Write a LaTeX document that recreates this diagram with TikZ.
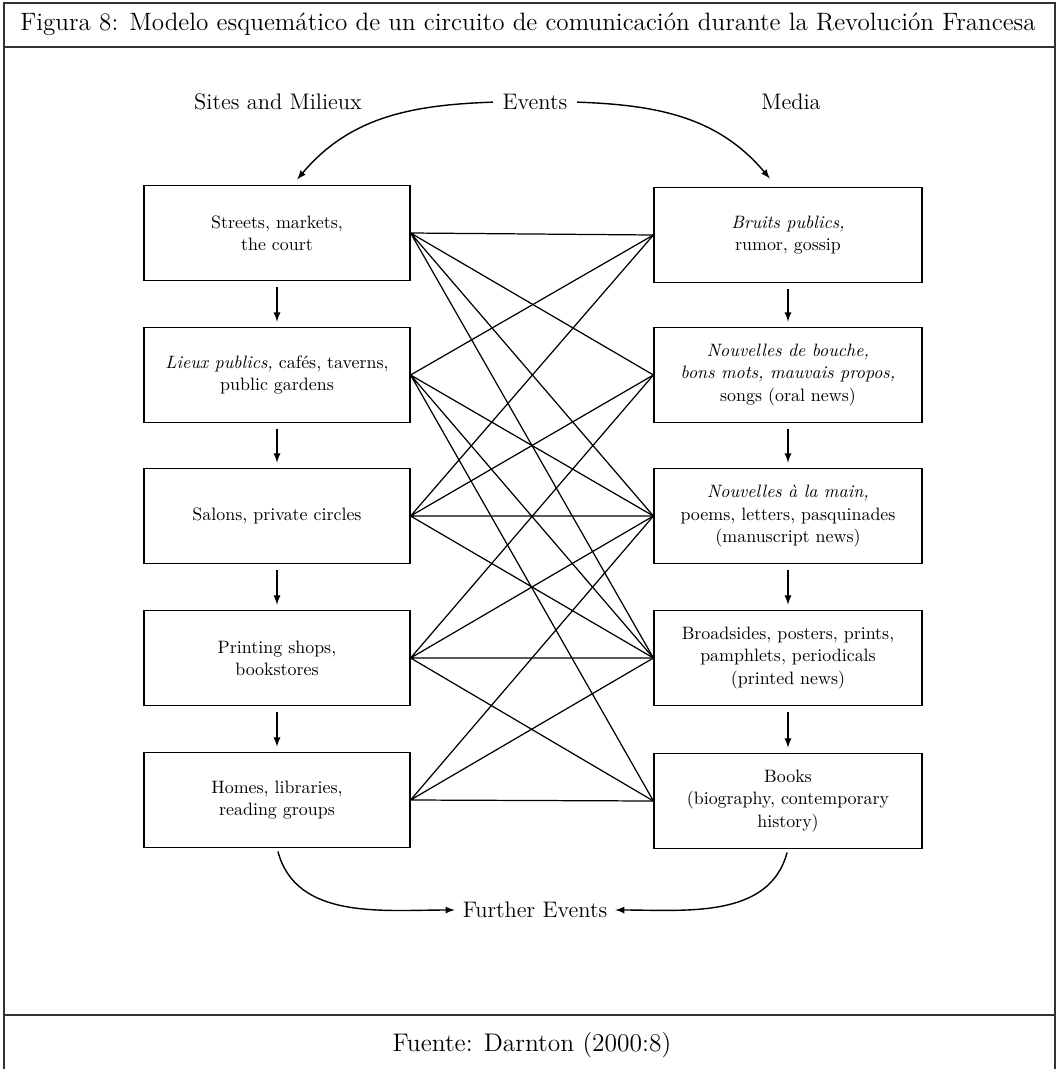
\documentclass[tikz,border=0pt]{standalone}
\usepackage{tikz}
\usetikzlibrary{arrows, positioning, calc}

\tikzset{
  sitebox/.style={draw, line width=0.7pt, minimum width=5.32cm, minimum height=1.9cm, align=center, font=\fontsize{10.2}{12.6}\selectfont},
  mediabox/.style={sitebox, minimum width=5.36cm},
  colhead/.style={font=\fontsize{12.8}{15}\selectfont},
  flow/.style={->, >=latex, line width=0.8pt, shorten <=3.5pt, shorten >=3pt},
  eventarc/.style={->, >=latex, line width=0.8pt, shorten <=2pt, shorten >=1pt},
  link/.style={line width=0.7pt},
  frame/.style={line width=0.9pt, black!80}
}

\begin{document}
\begin{tikzpicture}[x=0.02cm, y=0.02cm]
\useasboundingbox (0,0) rectangle (1058,-1069);

% Table frame
\draw[frame] (4,-1069) -- (4,-3) -- (1055,-3) -- (1055,-1069);
\draw[frame] (4,-47) -- (1055,-47);
\draw[frame] (4,-1015) -- (1055,-1015);
\node[font=\fontsize{14.3}{16}\selectfont] (title) at (528,-24) {Figura 8: Modelo esquemático de un circuito de comunicación durante la Revolución Francesa};
\node[font=\fontsize{14.5}{16}\selectfont] (source) at (532,-1045) {Fuente: Darnton (2000:8)};

% Column headings
\node[colhead] (sites) at (278,-102) {Sites and Milieux};
\node[colhead] (events) at (535,-102) {Events};
\node[colhead] (media) at (791,-102) {Media};

% Sites and milieux
\node[sitebox] (streets) at (277,-233) {Streets, markets,\\ the court};
\node[sitebox] (lieux) at (277,-375) {\textit{Lieux publics,} cafés, taverns,\\ public gardens};
\node[sitebox] (salons) at (277,-516) {Salons, private circles};
\node[sitebox] (printing) at (277,-658) {Printing shops,\\ bookstores};
\node[sitebox] (homes) at (277,-800) {Homes, libraries,\\ reading groups};

% Media
\node[mediabox] (bruits) at (788,-235) {\textit{Bruits publics,}\\ rumor, gossip};
\node[mediabox] (bouche) at (788,-375) {\textit{Nouvelles de bouche,}\\ \textit{bons mots, mauvais propos,}\\ songs (oral news)};
\node[mediabox] (manuscript) at (788,-516) {\textit{Nouvelles à la main,}\\ poems, letters, pasquinades\\ (manuscript news)};
\node[mediabox] (broadsides) at (788,-658) {Broadsides, posters, prints,\\ pamphlets, periodicals\\ (printed news)};
\node[mediabox] (books) at (788,-801) {Books\\ (biography, contemporary\\ history)};

\node[colhead] (further) at (535,-910) {Further Events};

% Down the columns
\draw[flow] (streets) -- (lieux);
\draw[flow] (lieux) -- (salons);
\draw[flow] (salons) -- (printing);
\draw[flow] (printing) -- (homes);
\draw[flow] (bruits) -- (bouche);
\draw[flow] (bouche) -- (manuscript);
\draw[flow] (manuscript) -- (broadsides);
\draw[flow] (broadsides) -- (books);

% Events in and out
\draw[eventarc] (events.west) to[out=182, in=50] ($(streets.north)+(19,4)$);
\draw[eventarc] (events.east) to[out=-2, in=130] ($(bruits.north)+(-17,7)$);
\draw[eventarc] (homes.south) to[out=-75, in=180] (further.west);
\draw[eventarc] (books.south) to[out=-105, in=0] (further.east);

% Crossing lines between sites and media
\draw[link] (streets.east) -- (bruits.west) (streets.east) -- (bouche.west)
  (streets.east) -- (manuscript.west) (streets.east) -- (broadsides.west);
\draw[link] (lieux.east) -- (bruits.west) (lieux.east) -- (manuscript.west)
  (lieux.east) -- (broadsides.west) (lieux.east) -- (books.west);
\draw[link] (salons.east) -- (bruits.west) (salons.east) -- (bouche.west)
  (salons.east) -- (manuscript.west) (salons.east) -- (broadsides.west);
\draw[link] (printing.east) -- (bouche.west) (printing.east) -- (manuscript.west)
  (printing.east) -- (broadsides.west) (printing.east) -- (books.west);
\draw[link] (homes.east) -- (manuscript.west) (homes.east) -- (broadsides.west)
  (homes.east) -- (books.west);
\end{tikzpicture}
\end{document}
